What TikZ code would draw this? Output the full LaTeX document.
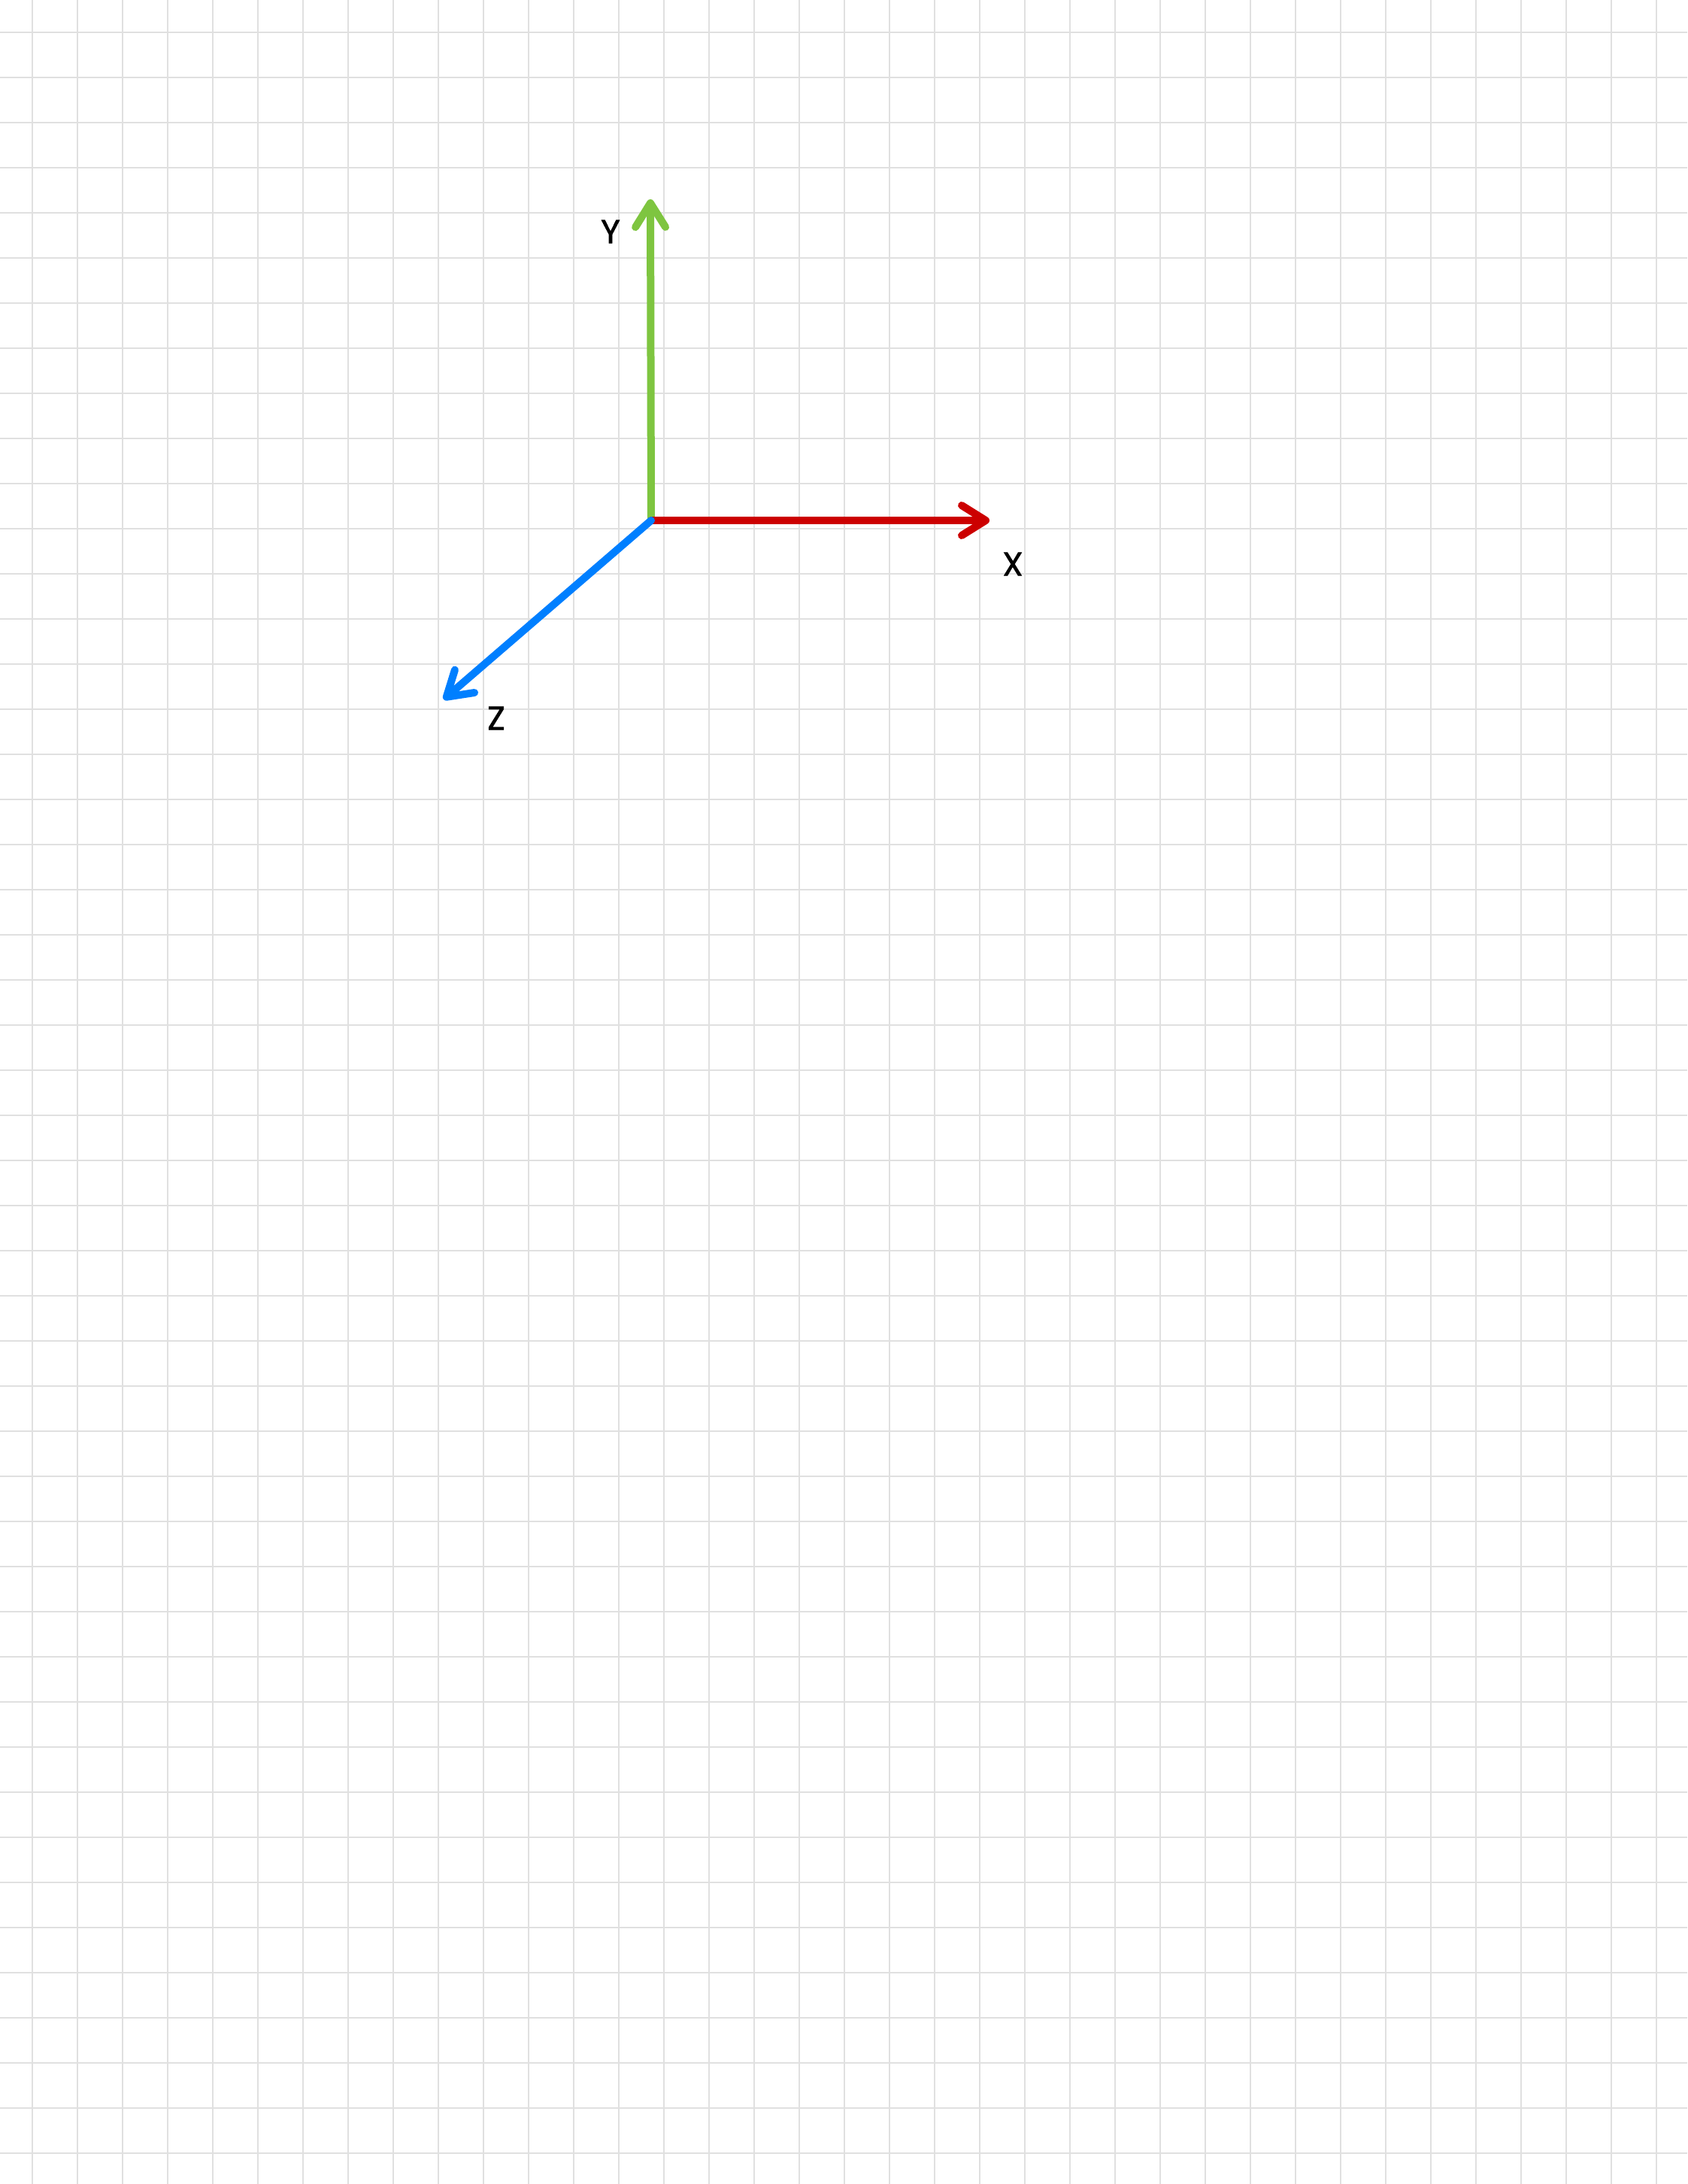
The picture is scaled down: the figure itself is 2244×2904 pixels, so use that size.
\documentclass[tikz,border=0pt]{standalone}
\usepackage{fontspec}
\setmainfont{Poppins}
\newfontfamily\labelfont{Poppins}[FakeBold=1.5]
\usetikzlibrary{arrows.meta}
\definecolor{gridgray}{HTML}{E0E0E0}
\definecolor{axred}{HTML}{CC0000}
\definecolor{axgreen}{HTML}{7EC540}
\definecolor{axblue}{HTML}{007FFF}
\tikzset{
  gridline/.style={draw=gridgray, line width=1.6pt},
  axis/.style={line width=10pt, line cap=round,
    -{Straight Barb[length=32pt, width=40pt, line cap=round, line join=round]}},
  axlabel/.style={font=\labelfont\fontsize{44}{44}\selectfont, text=black, inner sep=0pt}
}
\begin{document}
\begin{tikzpicture}[x=1pt, y=-1pt]
\useasboundingbox (0,0) rectangle (2244,2904);
\fill[white] (0,0) rectangle (2244,2904);
\foreach \i in {0,...,36} {
  \draw[gridline] ({43+60*\i},0) -- ({43+60*\i},2904);
}
\foreach \j in {0,...,47} {
  \draw[gridline] (0,{43+60*\j}) -- (2244,{43+60*\j});
}
\coordinate (O) at (866,692);
\coordinate (Xtip) at (1316,692);
\coordinate (Ytip) at (865,265);
\coordinate (Ztip) at (590,930);
\draw[axis, axgreen] (O) -- (Ytip);
\draw[axis, axred] (O) -- (Xtip);
\draw[axis, axblue] (O) -- (Ztip);
\node[axlabel] (xl) at (1347,750) {X};
\node[axlabel] (yl) at (812,308) {Y};
\node[axlabel] (zl) at (660,955) {Z};
\end{tikzpicture}
\end{document}
